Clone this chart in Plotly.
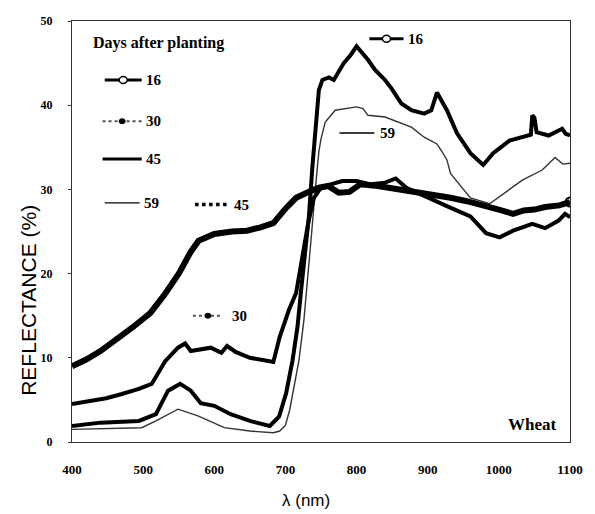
import plotly.graph_objects as go

# Reflectance spectra of wheat canopy (%), by wavelength (nm)
wl_a = [400, 420, 440, 460, 485, 510, 530, 550, 567, 578, 600, 625, 646, 665, 683, 701, 715, 730,
        747, 760, 775, 790, 805, 830, 860, 886, 910, 932, 955, 978, 1000, 1020, 1035, 1050, 1065, 1085, 1100]
refl_a = [9.0, 9.8, 10.8, 12.0, 13.6, 15.3, 17.5, 20.0, 22.6, 23.9, 24.7, 25.0, 25.1, 25.5, 26.0, 27.8, 29.0, 29.6,
          30.2, 30.4, 29.6, 29.7, 30.6, 30.4, 30.0, 29.6, 29.4, 29.0, 28.6, 28.0, 27.6, 27.1, 27.5, 27.6, 27.9, 28.1, 28.5]

wl_b = [400, 425, 448, 470, 494, 512, 531, 549, 559, 567, 580, 595, 610, 618, 630, 650, 670, 683, 692, 705, 715,
        719, 724, 732, 740, 750, 760, 780, 800, 820, 840, 855, 870, 900, 930, 960, 982, 1001, 1020, 1047, 1065, 1084, 1093, 1100]
refl_b = [4.5, 4.9, 5.2, 5.7, 6.3, 6.9, 9.6, 11.2, 11.7, 10.8, 11.0, 11.2, 10.6, 11.4, 10.7, 10.0, 9.7, 9.5, 12.5, 15.7, 17.7,
          19.7, 21.7, 26.0, 29.0, 30.2, 30.5, 31.0, 31.0, 30.6, 30.8, 31.3, 30.2, 29.0, 27.9, 26.8, 24.8, 24.3, 25.1, 25.9, 25.4, 26.3, 27.1, 26.7]

wl_c = [400, 440, 494, 518, 535, 552, 567, 581, 600, 623, 650, 678, 691, 701, 710, 717, 722, 728, 733, 738, 742, 747,
        752, 761, 768, 775, 782, 792, 800, 816, 826, 840, 849, 863, 877, 895, 905, 913, 920, 927, 941, 960, 978, 992,
        1015, 1033, 1045, 1047, 1050, 1053, 1070, 1089, 1094, 1100]
refl_c = [1.9, 2.3, 2.5, 3.3, 6.1, 6.9, 6.1, 4.6, 4.3, 3.3, 2.5, 1.9, 3.0, 5.8, 9.7, 13.7, 18.0, 22.5, 26.8, 32.8, 37.0, 41.8,
          43.0, 43.3, 43.0, 44.0, 45.0, 46.0, 47.0, 45.4, 44.2, 43.0, 42.0, 40.2, 39.4, 39.0, 39.4, 41.5, 40.5, 39.4, 36.7, 34.3, 32.9, 34.3,
          35.8, 36.2, 36.5, 38.8, 38.5, 36.8, 36.4, 37.2, 36.6, 36.4]

wl_d = [400, 450, 498, 518, 549, 577, 614, 650, 683, 692, 700, 706, 712, 719, 726, 731, 737, 742, 747, 750, 756, 770,
        784, 800, 809, 816, 840, 858, 877, 895, 913, 920, 927, 932, 946, 960, 987, 1006, 1033, 1061, 1079, 1090, 1100]
refl_d = [1.5, 1.6, 1.7, 2.5, 3.9, 3.1, 1.7, 1.3, 1.1, 1.3, 2.0, 3.8, 6.5, 9.7, 14.5, 19.0, 25.0, 30.0, 34.5, 36.0, 38.0, 39.4,
          39.6, 39.8, 39.6, 38.8, 38.6, 38.0, 37.4, 36.2, 35.4, 34.5, 33.5, 31.9, 30.5, 29.0, 28.3, 29.5, 31.1, 32.3, 33.8, 33.0, 33.1]

x_ticks = [400, 500, 600, 700, 800, 900, 1000, 1100]
y_ticks = [0, 10, 20, 30, 40, 50]

SERIF = "Liberation Serif"
SANS = "Liberation Sans"

fig = go.Figure()
fig.add_trace(go.Scatter(x=wl_d, y=refl_d, mode="lines", line=dict(color="#333", width=1.4), showlegend=False))
fig.add_trace(go.Scatter(x=wl_b, y=refl_b, mode="lines", line=dict(color="black", width=4), showlegend=False))
fig.add_trace(go.Scatter(x=wl_c, y=refl_c, mode="lines", line=dict(color="black", width=4), showlegend=False))
fig.add_trace(go.Scatter(x=wl_a, y=refl_a, mode="lines", line=dict(color="black", width=6), showlegend=False))
# open circle closing the soil-like spectrum
fig.add_trace(go.Scatter(x=wl_a[-1:], y=refl_a[-1:], mode="markers",
                         marker=dict(symbol="circle-open", size=9, color="black", line=dict(width=2)),
                         showlegend=False))

shapes = []
annots = []


def key(x0, x1, y, label, style, lx=None):
    """Legend sample line plus its label, in data coordinates."""
    if style == "circle":
        shapes.append(dict(type="line", x0=x0, x1=x1, y0=y, y1=y, line=dict(color="black", width=3)))
        xm = (x0 + x1) / 2
        shapes.append(dict(type="circle", xsizemode="pixel", ysizemode="pixel", xanchor=xm, yanchor=y,
                           x0=-4, x1=4, y0=-3.5, y1=3.5, fillcolor="white", line=dict(color="black", width=1.5)))
    elif style == "dotted":
        shapes.append(dict(type="line", x0=x0, x1=x1, y0=y, y1=y, line=dict(color="#555", width=2, dash="dot")))
        xm = (x0 + x1) / 2
        shapes.append(dict(type="circle", xsizemode="pixel", ysizemode="pixel", xanchor=xm, yanchor=y,
                           x0=-3, x1=3, y0=-2.5, y1=2.5, fillcolor="black", line=dict(color="black", width=1)))
    elif style == "thickdot":
        shapes.append(dict(type="line", x0=x0, x1=x1, y0=y, y1=y, line=dict(color="black", width=3.5, dash="dot")))
    elif style == "thick":
        shapes.append(dict(type="line", x0=x0, x1=x1, y0=y, y1=y, line=dict(color="black", width=3)))
    else:
        shapes.append(dict(type="line", x0=x0, x1=x1, y0=y, y1=y, line=dict(color="black", width=1.3)))
    annots.append(dict(x=lx if lx is not None else x1 + 3, y=y, text=label, showarrow=False, xanchor="left",
                       font=dict(family=SERIF, size=15, color="black", weight="bold")))


annots.append(dict(x=427, y=47.4, text="Days after planting", showarrow=False, xanchor="left",
                   font=dict(family=SERIF, size=16, color="black", weight="bold")))
key(446, 498, 43.0, "16", "circle")
key(443, 498, 38.1, "30", "dotted")
key(443, 498, 33.6, "45", "thick")
key(446, 495, 28.4, "59", "thin")
key(573, 622, 28.2, "45", "thickdot")
key(818, 866, 47.9, "16", "circle")
key(776, 825, 36.7, "59", "thin", lx=830)
key(570, 612, 15.0, "30", "dotted", lx=622)
annots.append(dict(x=1047, y=2.1, text="Wheat", showarrow=False,
                   font=dict(family=SERIF, size=17, color="black", weight="bold")))

# axis titles
annots.append(dict(xref="paper", yref="paper", x=-0.089, y=0.337, xanchor="center", yanchor="middle",
                   text="REFLECTANCE (%)", textangle=-90,
                   showarrow=False, font=dict(family=SANS, size=21, color="black")))
annots.append(dict(xref="paper", yref="paper", x=0.47, y=-0.138, xanchor="center", yanchor="middle",
                   text="λ (nm)", showarrow=False,
                   font=dict(family=SANS, size=17, color="black")))

fig.update_layout(
    width=595, height=514,
    margin=dict(l=72, r=16, t=21, b=72),
    paper_bgcolor="white", plot_bgcolor="white",
    shapes=shapes, annotations=annots,
    xaxis=dict(range=[400, 1100], tickvals=x_ticks, ticktext=[str(v) for v in x_ticks],
               showgrid=False, zeroline=False, showline=True, mirror=True, linecolor="#333", linewidth=1,
               ticks="", ticklabelstandoff=15,
               tickfont=dict(family=SERIF, size=13, color="black", weight="bold")),
    yaxis=dict(range=[0, 50], tickvals=y_ticks, ticktext=[str(v) for v in y_ticks],
               showgrid=False, zeroline=False, showline=True, mirror=True, linecolor="#333", linewidth=1,
               ticks="outside", ticklen=3, tickcolor="#333", ticklabelstandoff=13,
               tickfont=dict(family=SERIF, size=12, color="black", weight="bold")),
)

fig.write_html("out.html")
